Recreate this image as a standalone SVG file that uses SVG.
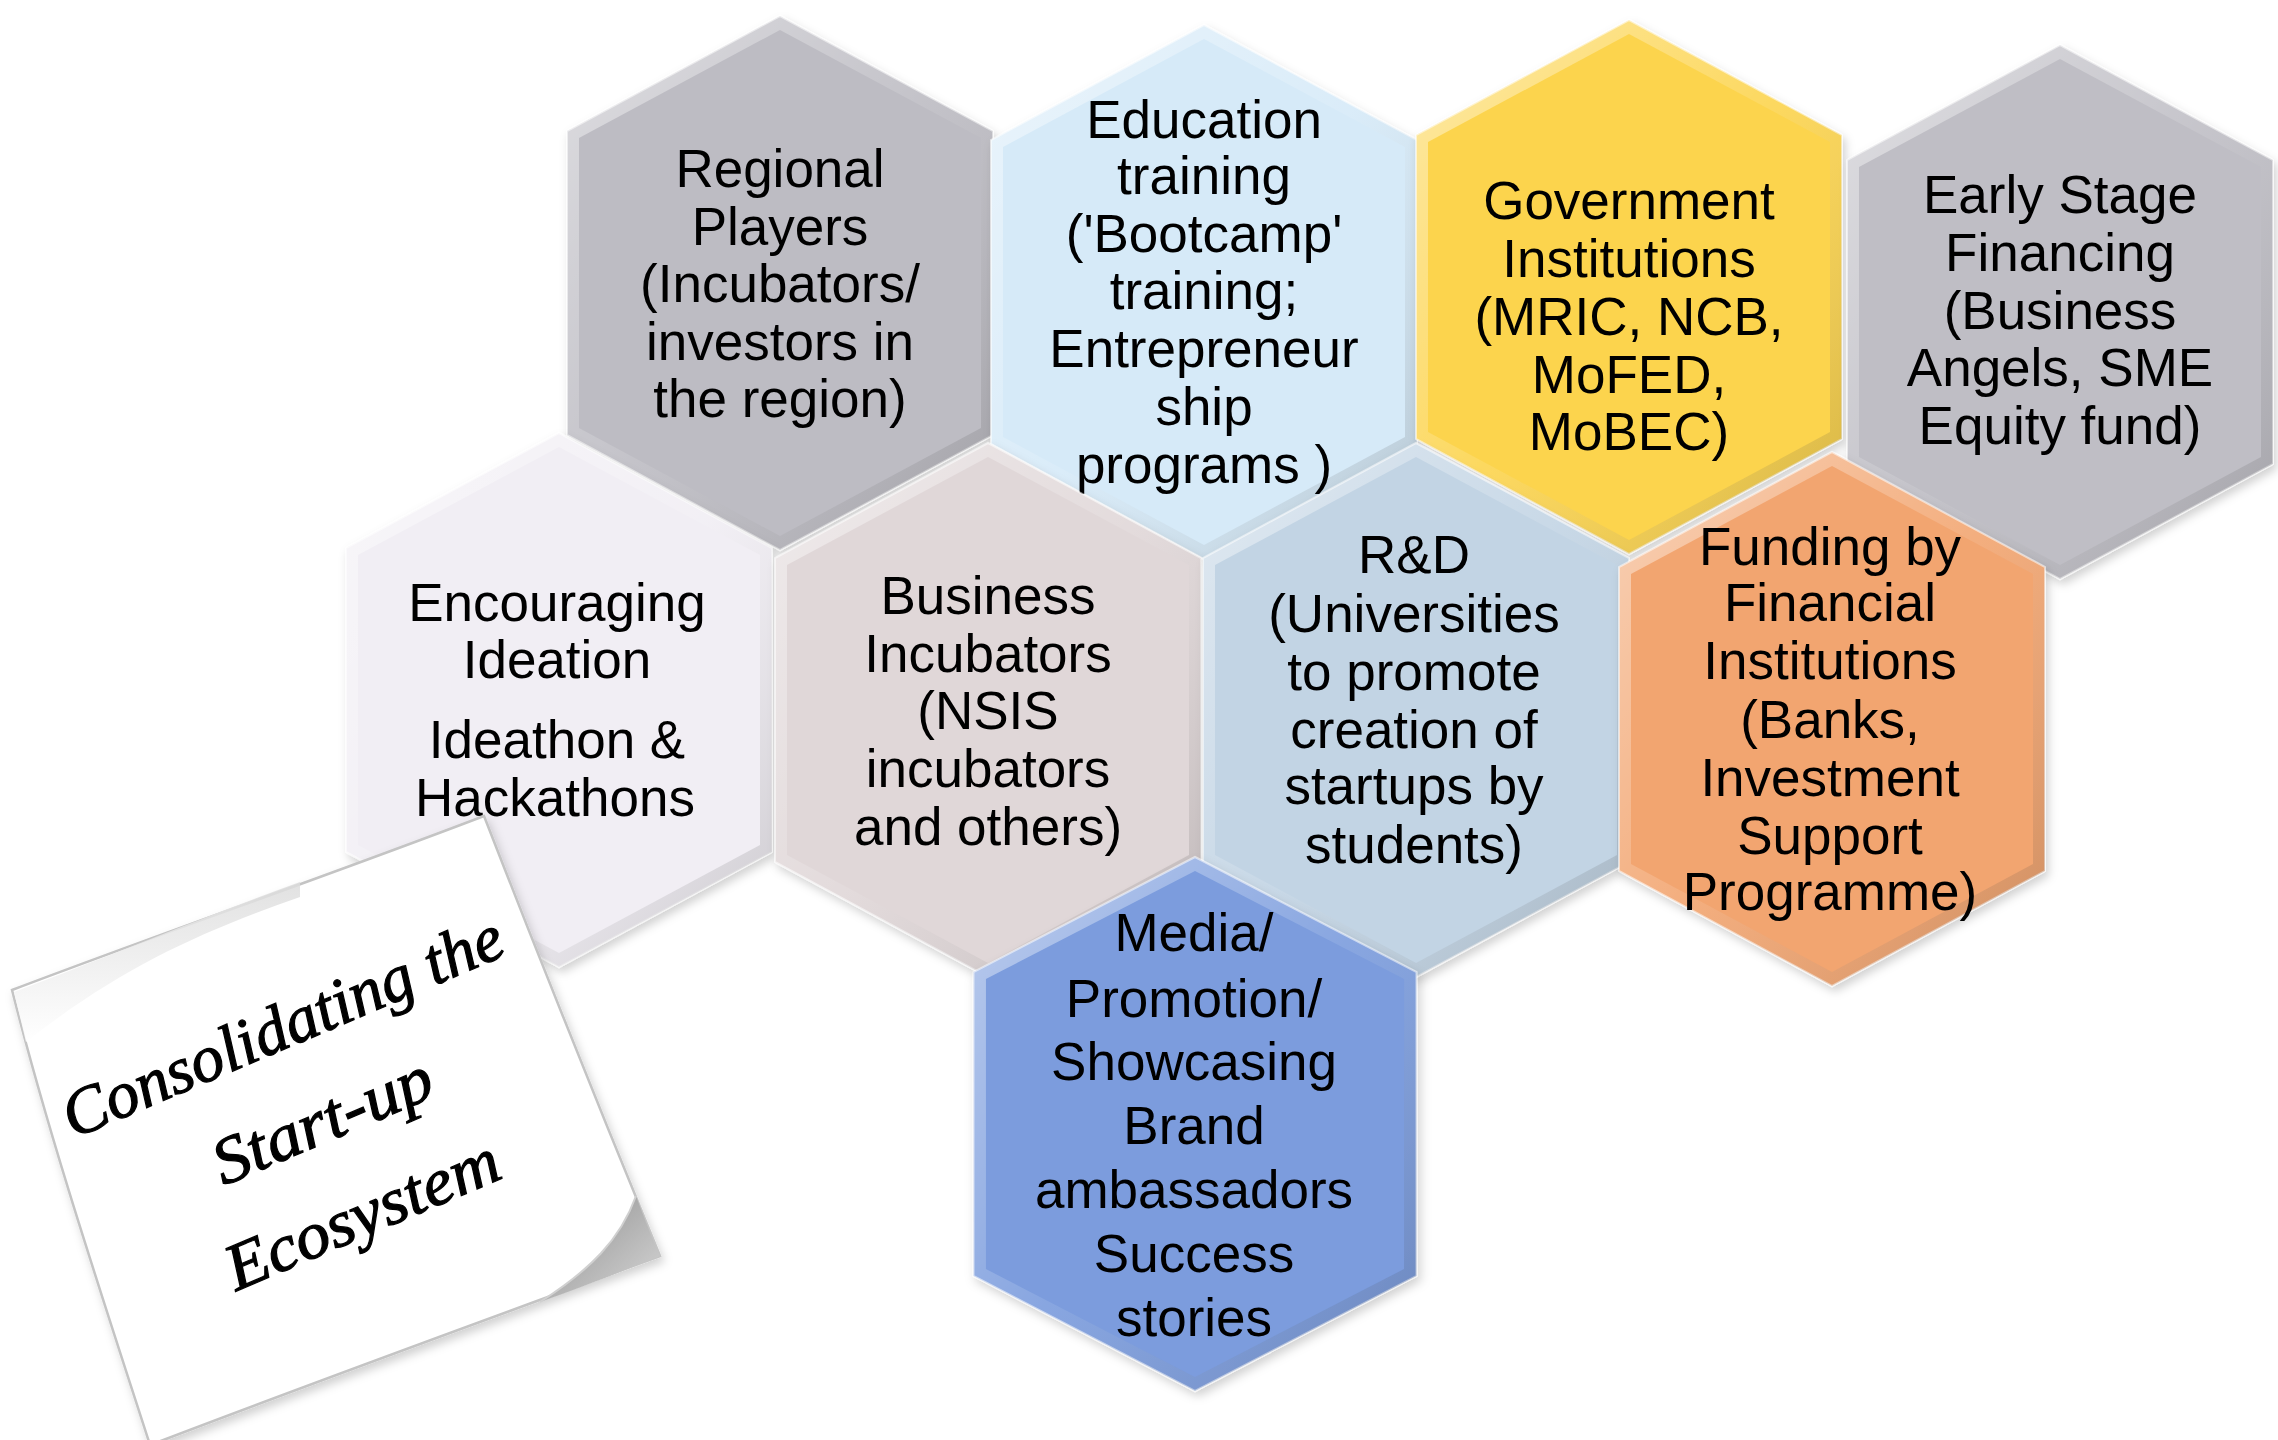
<svg xmlns="http://www.w3.org/2000/svg" xmlns:xlink="http://www.w3.org/1999/xlink" width="2278" height="1440" viewBox="0 0 2278 1440">
<style>
.t{font-family:"Liberation Sans",Arial,sans-serif;font-size:53px;fill:#000;text-anchor:middle}
.n{font-family:"Liberation Serif","Times New Roman",serif;font-style:italic;font-size:66px;fill:#000;stroke:#000;stroke-width:1.2;text-anchor:middle}
.edge{stroke:#ffffff;stroke-opacity:0.55;stroke-width:2}
</style>
<defs>
<polygon id="ho" points="0,0 213,115 213,419 0,534 -213,419 -213,115"/>
<polygon id="hi" points="0,14 201,122 201,412 0,520 -201,412 -201,122"/>
<linearGradient id="bev" x1="0" y1="0" x2="1" y2="1">
<stop offset="0" stop-color="#fff" stop-opacity="0.5"/>
<stop offset="0.5" stop-color="#fff" stop-opacity="0.1"/>
<stop offset="1" stop-color="#000" stop-opacity="0.16"/>
</linearGradient>
<linearGradient id="shade" x1="0" y1="0" x2="1" y2="1">
<stop offset="0" stop-color="#8a8a8a"/>
<stop offset="1" stop-color="#d8d8d8"/>
</linearGradient>
<linearGradient id="curl" x1="0" y1="0" x2="0" y2="1">
<stop offset="0" stop-color="#dcdcdc"/>
<stop offset="1" stop-color="#ffffff"/>
</linearGradient>
<filter id="sh" x="-10%" y="-10%" width="130%" height="130%">
<feDropShadow dx="3" dy="5" stdDeviation="5" flood-color="#000" flood-opacity="0.18"/>
</filter>
</defs>
<rect width="2278" height="1440" fill="#ffffff"/>

<g id="connectors"/>

<g id="regional">
<g transform="translate(780,16)" filter="url(#sh)"><use xlink:href="#ho" fill="#BDBCC3" class="edge"/><use xlink:href="#ho" fill="url(#bev)"/><use xlink:href="#hi" fill="#BDBCC3"/></g>
<text class="t"><tspan x="780" y="187">Regional</tspan><tspan x="780" y="245">Players</tspan><tspan x="780" y="302">(Incubators/</tspan><tspan x="780" y="360">investors in</tspan><tspan x="780" y="417">the region)</tspan></text>
</g>

<g id="education">
<g transform="translate(1204,25)" filter="url(#sh)"><use xlink:href="#ho" fill="#D6EAF8" class="edge"/><use xlink:href="#ho" fill="url(#bev)"/><use xlink:href="#hi" fill="#D6EAF8"/></g>
<text class="t"><tspan x="1204" y="138">Education</tspan><tspan x="1204" y="194">training</tspan><tspan x="1204" y="252">('Bootcamp'</tspan><tspan x="1204" y="309">training;</tspan><tspan x="1204" y="367">Entrepreneur</tspan><tspan x="1204" y="425">ship</tspan><tspan x="1204" y="483">programs )</tspan></text>
</g>

<g id="government">
<g transform="translate(1629,20)" filter="url(#sh)"><use xlink:href="#ho" fill="#FCD44E" class="edge"/><use xlink:href="#ho" fill="url(#bev)"/><use xlink:href="#hi" fill="#FCD44E"/></g>
<text class="t"><tspan x="1629" y="219">Government</tspan><tspan x="1629" y="277">Institutions</tspan><tspan x="1629" y="335">(MRIC, NCB,</tspan><tspan x="1629" y="393">MoFED,</tspan><tspan x="1629" y="450">MoBEC)</tspan></text>
</g>

<g id="early-stage">
<g transform="translate(2060,45)" filter="url(#sh)"><use xlink:href="#ho" fill="#BFBEC5" class="edge"/><use xlink:href="#ho" fill="url(#bev)"/><use xlink:href="#hi" fill="#BFBEC5"/></g>
<text class="t"><tspan x="2060" y="213">Early Stage</tspan><tspan x="2060" y="271">Financing</tspan><tspan x="2060" y="329">(Business</tspan><tspan x="2060" y="386">Angels, SME</tspan><tspan x="2060" y="444">Equity fund)</tspan></text>
</g>

<g id="encouraging">
<g transform="translate(559,433)" filter="url(#sh)"><use xlink:href="#ho" fill="#F1EEF4" class="edge"/><use xlink:href="#ho" fill="url(#bev)"/><use xlink:href="#hi" fill="#F1EEF4"/></g>
<text class="t"><tspan x="557" y="621">Encouraging</tspan><tspan x="557" y="678">Ideation</tspan><tspan x="557" y="758">Ideathon &amp;</tspan><tspan x="555" y="816">Hackathons</tspan></text>
</g>

<g id="business">
<g transform="translate(988,443)" filter="url(#sh)"><use xlink:href="#ho" fill="#E0D7D8" class="edge"/><use xlink:href="#ho" fill="url(#bev)"/><use xlink:href="#hi" fill="#E0D7D8"/></g>
<text class="t"><tspan x="988" y="614">Business</tspan><tspan x="988" y="672">Incubators</tspan><tspan x="988" y="729">(NSIS</tspan><tspan x="988" y="787">incubators</tspan><tspan x="988" y="845">and others)</tspan></text>
</g>

<g id="rnd">
<g transform="translate(1416,443)" filter="url(#sh)"><use xlink:href="#ho" fill="#C2D4E4" class="edge"/><use xlink:href="#ho" fill="url(#bev)"/><use xlink:href="#hi" fill="#C2D4E4"/></g>
<text class="t"><tspan x="1414" y="573">R&amp;D</tspan><tspan x="1414" y="632">(Universities</tspan><tspan x="1414" y="690">to promote</tspan><tspan x="1414" y="748">creation of</tspan><tspan x="1414" y="804">startups by</tspan><tspan x="1414" y="863">students)</tspan></text>
</g>

<g id="funding">
<g transform="translate(1832,452)" filter="url(#sh)"><use xlink:href="#ho" fill="#F2A570" class="edge"/><use xlink:href="#ho" fill="url(#bev)"/><use xlink:href="#hi" fill="#F2A570"/></g>
<text class="t"><tspan x="1830" y="565">Funding by</tspan><tspan x="1830" y="621">Financial</tspan><tspan x="1830" y="679">Institutions</tspan><tspan x="1830" y="738">(Banks,</tspan><tspan x="1830" y="796">Investment</tspan><tspan x="1830" y="854">Support</tspan><tspan x="1830" y="910">Programme)</tspan></text>
</g>

<g id="media">
<g transform="translate(1195,857) scale(1.04,1)" filter="url(#sh)"><use xlink:href="#ho" fill="#7B9CDD" class="edge"/><use xlink:href="#ho" fill="url(#bev)"/><use xlink:href="#hi" fill="#7B9CDD"/></g>
<text class="t"><tspan x="1194" y="951">Media/</tspan><tspan x="1194" y="1017">Promotion/</tspan><tspan x="1194" y="1080">Showcasing</tspan><tspan x="1194" y="1144">Brand</tspan><tspan x="1194" y="1208">ambassadors</tspan><tspan x="1194" y="1272">Success</tspan><tspan x="1194" y="1336">stories</tspan></text>
</g>

<g id="sticky-note">
<path d="M12,990 C170,930 330,875 484,816 C540,960 600,1110 660,1256 C490,1318 320,1380 150,1445 C100,1290 50,1140 12,990 Z" fill="#ffffff" stroke="#c4c4c4" stroke-width="2.5" filter="url(#sh)"/>
<path d="M14,992 C120,952 200,918 300,882 L300,897 C200,932 120,968 26,1042 Z" fill="url(#curl)" opacity="0.85"/>
<path d="M636,1196 C645,1220 652,1238 660,1256 C620,1272 585,1286 540,1302 C590,1270 620,1240 636,1196 Z" fill="url(#shade)"/>
<path d="M636,1196 C620,1240 590,1270 540,1302" fill="none" stroke="#d0d0d0" stroke-width="2"/>
<g transform="translate(323,1122) rotate(-23)">
<text class="n"><tspan x="0" y="-82" textLength="473" lengthAdjust="spacingAndGlyphs">Consolidating the</tspan><tspan x="0" y="20" textLength="233" lengthAdjust="spacingAndGlyphs">Start-up</tspan><tspan x="0" y="122" textLength="292" lengthAdjust="spacingAndGlyphs">Ecosystem</tspan></text>
</g>
</g>
</svg>
